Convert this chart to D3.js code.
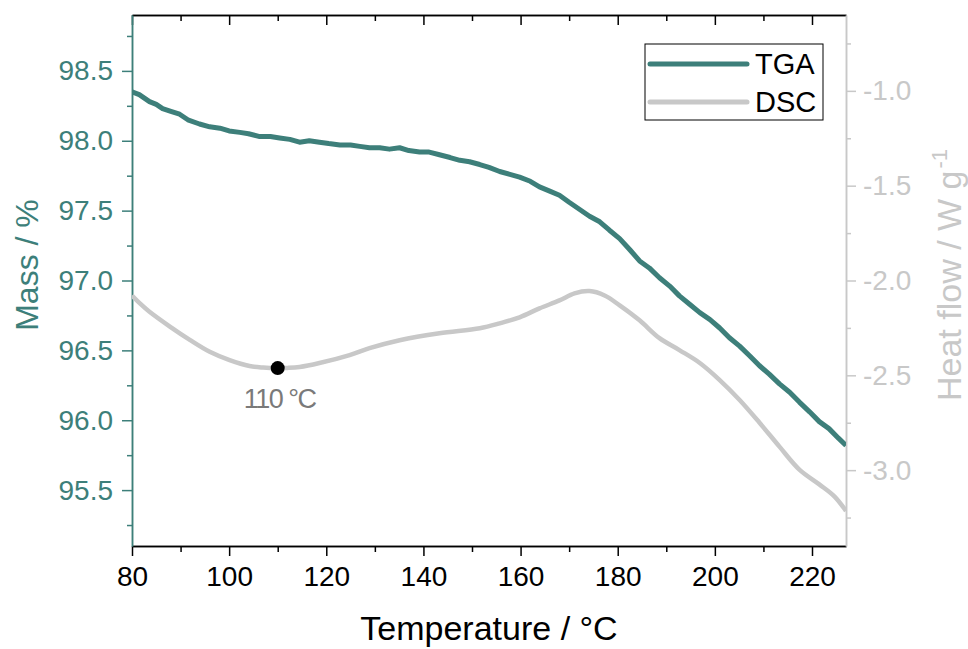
<!DOCTYPE html>
<html lang="en">
<head>
<meta charset="utf-8">
<script src="https://d3js.org/d3.v7.min.js"></script>
<style>
  body { margin: 0; background: #fff; }
  svg { font-family: "Liberation Sans", Arial, sans-serif; }
</style>
</head>
<body>
<div id="chart"></div>
<script>
// TGA readings (temperature in °C, mass in %)
var tgaTemp = [80, 81.5, 83.6, 85, 86.3, 88, 89.8, 91.5, 93.9, 96, 98.1, 100, 102.2, 104, 106.3, 108.5,
               110.4, 112.5, 114.5, 116.5, 118.6, 120.5, 122.8, 125, 126.9, 128.9, 131, 133, 135.1, 137,
               139.2, 141, 143.3, 145.5, 147.5, 149.5, 151.6, 153.5, 155.7, 157.8, 159.8, 162, 163.9,
               166, 168, 170, 172.1, 174.2, 176.3, 178.3, 180.4, 182.5, 184.5, 186.5, 188.6, 190.7,
               192.7, 194.8, 196.9, 199, 201, 203, 205.1, 207.2, 209.2, 211.2, 213.3, 215.4, 217.4,
               219.5, 221.5, 223.5, 225.5, 227];
var tgaMass = [98.35, 98.33, 98.28, 98.26, 98.23, 98.21, 98.19, 98.15, 98.12, 98.1, 98.09, 98.07, 98.06, 98.05, 98.03, 98.03,
               98.02, 98.01, 97.99, 98.0, 97.99, 97.98, 97.97, 97.97, 97.96, 97.95, 97.95, 97.94, 97.95, 97.93,
               97.92, 97.92, 97.9, 97.88, 97.86, 97.85, 97.83, 97.81, 97.78, 97.76, 97.74, 97.71, 97.67,
               97.64, 97.61, 97.56, 97.51, 97.46, 97.42, 97.36, 97.3, 97.22, 97.14, 97.09, 97.02, 96.96,
               96.89, 96.83, 96.77, 96.72, 96.66, 96.59, 96.53, 96.46, 96.39, 96.33, 96.26, 96.2, 96.13,
               96.06, 95.99, 95.94, 95.87, 95.82];

// DSC readings (temperature in °C, heat flow in W/g)
var dscTemp = [80, 81.8, 83.6, 87.8, 91.9, 96, 100.1, 104.2, 107, 110, 112, 114.5, 118.6, 124.8, 128.9, 135.1,
               143.3, 151.6, 155.7, 159.8, 163.9, 168, 171.1, 174.2, 177.3, 180.4, 184.5, 188.6,
               192.7, 196.9, 201, 205.1, 209.2, 213.3, 217.4, 221.5, 224.6, 227];
var dscHeat = [-2.079, -2.125, -2.165, -2.243, -2.313, -2.376, -2.42, -2.451, -2.459, -2.462, -2.461, -2.456, -2.435, -2.393, -2.357, -2.315,
               -2.278, -2.252, -2.226, -2.194, -2.147, -2.105, -2.068, -2.056, -2.079, -2.131, -2.21, -2.304,
               -2.367, -2.435, -2.525, -2.63, -2.75, -2.876, -2.997, -3.075, -3.138, -3.215];

var xMajor = [80, 100, 120, 140, 160, 180, 200, 220];
var xMinor = [90, 110, 130, 150, 170, 190, 210];
var massMajor = [95.5, 96.0, 96.5, 97.0, 97.5, 98.0, 98.5];
var massMinor = [95.25, 95.75, 96.25, 96.75, 97.25, 97.75, 98.25, 98.75];
var heatMajor = [-3.0, -2.5, -2.0, -1.5, -1.0];
var heatMinor = [-3.25, -2.75, -2.25, -1.75, -1.25, -0.75];

var minimum = {temp: 110, heat: -2.462, label: "110 °C"};
var series = ["TGA", "DSC"];

var teal = "#3d7f7a";
var grey = "#c8c8c8";

var margin = {top: 15, right: 122, bottom: 103, left: 132},
    width = 968 - margin.left - margin.right,
    height = 649 - margin.top - margin.bottom;

var svg = d3.select("#chart")
  .append("svg")
    .attr("width", 968)
    .attr("height", 649)
  .append("g")
    .attr("transform", "translate(" + margin.left + "," + margin.top + ")");

var x = d3.scaleLinear().domain([80, 227]).range([0, width]);
var yL = d3.scaleLinear().domain([95.1, 98.9]).range([height, 0]);
var yR = d3.scaleLinear().domain([-3.4, -0.6]).range([height, 0]);

svg.append("clipPath").attr("id", "clip")
  .append("rect").attr("width", width).attr("height", height);

function styleAxis(g, color, size) {
  g.select(".domain").attr("stroke", color).attr("stroke-width", 1.5);
  g.selectAll(".tick line").attr("stroke", color).attr("stroke-width", 1.5);
  g.selectAll(".tick text").attr("fill", color).attr("font-size", size)
    .attr("font-family", "Liberation Sans, Arial, sans-serif");
}

// bottom
var gb = svg.append("g").attr("transform", "translate(0," + height + ")")
  .call(d3.axisBottom(x).tickValues(xMajor).tickSize(10).tickSizeOuter(0).tickPadding(10).tickFormat(d3.format("d")));
styleAxis(gb, "#000", 28);
var gbm = svg.append("g").attr("transform", "translate(0," + height + ")")
  .call(d3.axisBottom(x).tickValues(xMinor).tickSize(6).tickSizeOuter(0).tickFormat(""));
styleAxis(gbm, "#000", 28);

// top
var gt = svg.append("g")
  .call(d3.axisTop(x).tickValues(xMajor).tickSize(-10).tickSizeOuter(0).tickFormat(""));
styleAxis(gt, "#000", 28);
var gtm = svg.append("g")
  .call(d3.axisTop(x).tickValues(xMinor).tickSize(-6).tickSizeOuter(0).tickFormat(""));
styleAxis(gtm, "#000", 28);

// left
var gl = svg.append("g")
  .call(d3.axisLeft(yL).tickValues(massMajor).tickSize(10).tickSizeOuter(0).tickPadding(9)
    .tickFormat(function(d) { return d.toFixed(1); }));
styleAxis(gl, teal, 28);
var glm = svg.append("g")
  .call(d3.axisLeft(yL).tickValues(massMinor).tickSize(5).tickSizeOuter(0).tickFormat(""));
styleAxis(glm, teal, 28);

// right
var gr = svg.append("g").attr("transform", "translate(" + width + ",0)")
  .call(d3.axisRight(yR).tickValues(heatMajor).tickSize(10).tickSizeOuter(0).tickPadding(7)
    .tickFormat(function(d) { return d.toFixed(1); }));
styleAxis(gr, grey, 28);
var grm = svg.append("g").attr("transform", "translate(" + width + ",0)")
  .call(d3.axisRight(yR).tickValues(heatMinor).tickSize(5).tickSizeOuter(0).tickFormat(""));
styleAxis(grm, grey, 28);

// curves
var dsc = dscTemp.map(function(t, i) { return [t, dscHeat[i]]; });
var tga = tgaTemp.map(function(t, i) { return [t, tgaMass[i]]; });

svg.append("path")
  .datum(dsc)
  .attr("clip-path", "url(#clip)")
  .attr("fill", "none")
  .attr("stroke", grey)
  .attr("stroke-width", 4.5)
  .attr("d", d3.line().curve(d3.curveCatmullRom)
    .x(function(d) { return x(d[0]); })
    .y(function(d) { return yR(d[1]); }));

svg.append("path")
  .datum(tga)
  .attr("clip-path", "url(#clip)")
  .attr("fill", "none")
  .attr("stroke", teal)
  .attr("stroke-width", 5)
  .attr("stroke-linejoin", "round")
  .attr("d", d3.line()
    .x(function(d) { return x(d[0]); })
    .y(function(d) { return yL(d[1]); }));

// minimum marker
svg.append("circle")
  .attr("cx", x(minimum.temp))
  .attr("cy", yR(minimum.heat))
  .attr("r", 7)
  .attr("fill", "#000");

svg.append("text")
  .attr("x", x(minimum.temp) + 2)
  .attr("y", yR(minimum.heat) + 40)
  .attr("text-anchor", "middle")
  .attr("font-size", 27)
  .attr("letter-spacing", -1.5)
  .attr("fill", "#7a7a7a")
  .text(minimum.label);

// legend
var legend = svg.append("g").attr("transform", "translate(" + (645 - margin.left) + "," + (44 - margin.top) + ")");
legend.append("rect")
  .attr("width", 178).attr("height", 76)
  .attr("fill", "#fff").attr("stroke", "#000").attr("stroke-width", 1);
series.forEach(function(s, i) {
  var yy = 20 + i * 38;
  legend.append("line")
    .attr("x1", 5).attr("x2", 102)
    .attr("y1", yy).attr("y2", yy)
    .attr("stroke", i === 0 ? teal : grey)
    .attr("stroke-width", 5)
    .attr("stroke-linecap", "round");
  legend.append("text")
    .attr("x", 110).attr("y", yy + 10)
    .attr("font-size", 29)
    .attr("fill", "#000")
    .text(s);
});

// axis titles
svg.append("text")
  .attr("x", width / 2)
  .attr("y", height + 94)
  .attr("text-anchor", "middle")
  .attr("font-size", 34)
  .attr("fill", "#000")
  .text("Temperature / °C");

svg.append("text")
  .attr("transform", "rotate(-90)")
  .attr("x", -(265 - margin.top))
  .attr("y", -margin.left + 38)
  .attr("text-anchor", "middle")
  .attr("font-size", 32)
  .attr("fill", teal)
  .text("Mass / %");

var hf = svg.append("text")
  .attr("transform", "rotate(-90)")
  .attr("x", -(275 - margin.top))
  .attr("y", width + 115)
  .attr("text-anchor", "middle")
  .attr("font-size", 34)
  .attr("fill", grey);
hf.append("tspan").text("Heat flow / W g");
hf.append("tspan").attr("font-size", 22).attr("dx", 2).attr("dy", -14).text("-1");
</script>
</body>
</html>
